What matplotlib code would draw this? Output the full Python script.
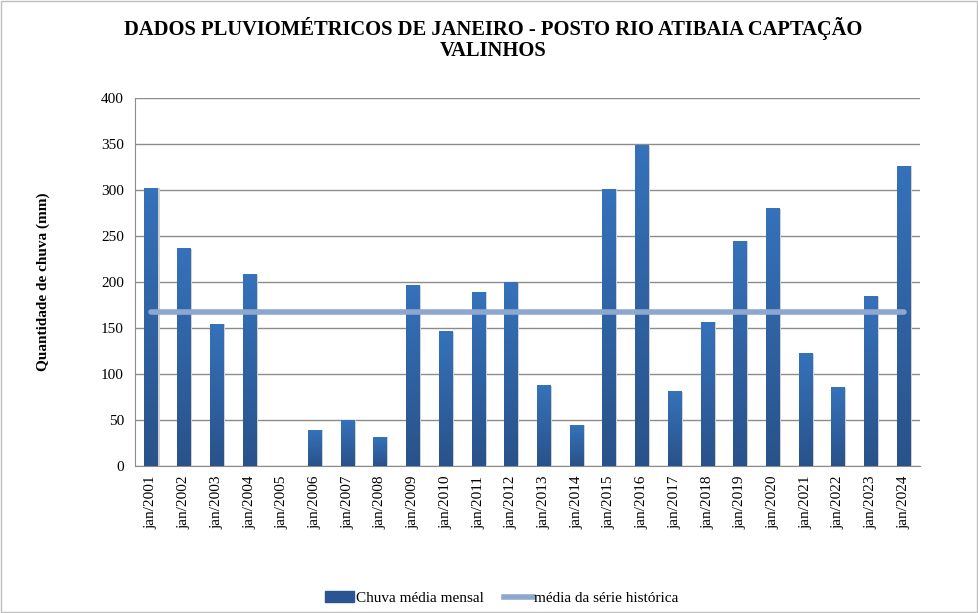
import matplotlib.pyplot as plt
import numpy as np
from matplotlib.colors import LinearSegmentedColormap
from matplotlib.patches import Rectangle
from matplotlib.lines import Line2D

plt.rcParams['font.family'] = ['Liberation Serif', 'DejaVu Serif']

anos = [f"jan/{a}" for a in range(2001, 2025)]
chuva = [302, 236, 154, 208, 0, 39, 50, 31.5, 196, 146, 189, 199, 87, 44.5,
         301, 348, 80.5, 156.5, 244.5, 279.5, 122, 85, 184, 326]
media_historica = 167

fig = plt.figure(figsize=(9.79, 6.13), dpi=100)
ax = fig.add_axes([135 / 979, 1 - 466 / 613, 785 / 979, 368 / 613])

grad = LinearSegmentedColormap.from_list("g", ["#29528a", "#3572ba"])
x = np.arange(len(anos))
w = 0.42
for xi, v in zip(x, chuva):
    if v <= 0:
        continue
    # sombra leve
    ax.add_patch(Rectangle((xi - w / 2 + 0.04, 0), w, v, color="#d0d0d0", zorder=2, lw=0))
    ax.imshow(np.linspace(0, 1, 64).reshape(-1, 1), cmap=grad, origin="lower",
              extent=(xi - w / 2, xi + w / 2, 0, v), aspect="auto", zorder=3)

ax.plot([x[0], x[-1]], [media_historica] * 2, color="#8ea7ce", lw=4,
        solid_capstyle="round", zorder=4)

ax.set_xlim(-0.5, len(anos) - 0.5)
ax.set_ylim(0, 400)
ax.set_yticks(range(0, 401, 50))
ax.set_xticks(x)
ax.set_xticklabels(anos, rotation=90, fontsize=11)
ax.tick_params(axis="y", labelsize=11, length=0, pad=8)
ax.tick_params(axis="x", length=0, pad=7)
ax.grid(axis="y", color="#8c8c8c", lw=1)
ax.set_axisbelow(True)
for s in ["top", "right"]:
    ax.spines[s].set_visible(False)
ax.spines["left"].set_color("#8c8c8c")
ax.spines["bottom"].set_color("#8c8c8c")
ax.set_ylabel("Quantidade de chuva (mm)", fontsize=11, fontweight="bold", labelpad=37)

fig.suptitle("DADOS PLUVIOMÉTRICOS DE JANEIRO - POSTO RIO ATIBAIA CAPTAÇÃO\nVALINHOS",
             x=493 / 979, y=1 - 17 / 613, fontsize=14.8, fontweight="bold", linespacing=1.05)

handles = [Rectangle((0, 0), 1, 1, color="#2a5590"),
           Line2D([0], [0], color="#8ea7ce", lw=4)]
fig.legend(handles, ["Chuva média mensal", "média da série histórica"],
           loc="center", bbox_to_anchor=(502 / 979, 1 - 598 / 613), ncol=2,
           frameon=False, fontsize=11, handlelength=1.9, handletextpad=0.1,
           columnspacing=1.3)

fig.add_artist(Rectangle((0.001, 0.001), 0.997, 0.997, transform=fig.transFigure,
                         fill=False, ec="#bfbfbf", lw=1))

fig.savefig("out.png", dpi=100)
